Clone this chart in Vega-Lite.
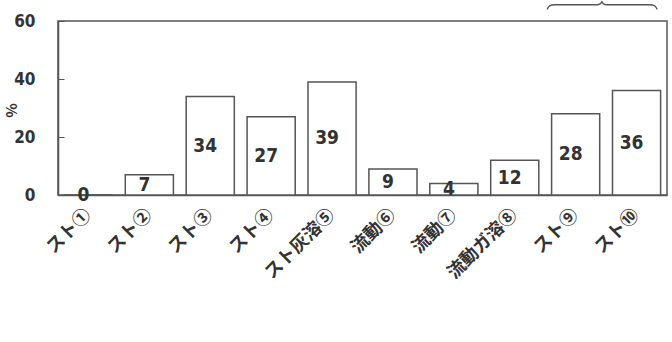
{
  "$schema": "https://vega.github.io/schema/vega-lite/v6.json",
  "width": 609,
  "height": 174,
  "autosize": "none",
  "padding": {"left": 58, "top": 21, "right": 5, "bottom": 147},
  "background": "white",
  "config": {
    "view": {"stroke": "#555", "strokeWidth": 1.5},
    "axis": {"grid": false}
  },
  "datasets": {
    "bars": [
      {"cat": "スト①", "v": 0},
      {"cat": "スト②", "v": 7},
      {"cat": "スト③", "v": 34},
      {"cat": "スト④", "v": 27},
      {"cat": "スト灰溶⑤", "v": 39},
      {"cat": "流動⑥", "v": 9},
      {"cat": "流動⑦", "v": 4},
      {"cat": "流動ガ溶⑧", "v": 12},
      {"cat": "スト⑨", "v": 28},
      {"cat": "スト⑩", "v": 36}
    ],
    "brace": [
      {"bx": 8.03, "by": 64.0},
      {"bx": 8.07, "by": 65.2},
      {"bx": 8.15, "by": 65.6},
      {"bx": 8.85, "by": 65.6},
      {"bx": 8.91, "by": 66.0},
      {"bx": 8.93, "by": 66.8},
      {"bx": 8.95, "by": 66.0},
      {"bx": 9.01, "by": 65.6},
      {"bx": 9.72, "by": 65.6},
      {"bx": 9.80, "by": 65.2},
      {"bx": 9.84, "by": 64.0}
    ]
  },
  "layer": [
    {
      "data": {"name": "bars"},
      "mark": {"type": "bar", "fill": "white", "stroke": "#555", "strokeWidth": 1.5},
      "encoding": {
        "x": {
          "field": "cat", "type": "nominal", "sort": null,
          "scale": {"paddingInner": 0.21, "paddingOuter": 0.105},
          "axis": {
            "title": null, "labelAngle": -45, "labelAlign": "right", "labelBaseline": "middle",
            "labelFont": "Noto Sans CJK JP", "labelFontWeight": "bold", "labelFontSize": 18,
            "labelColor": "#333", "ticks": false, "labelPadding": 17,
            "domainColor": "#555", "domainWidth": 1.5
          }
        },
        "y": {
          "field": "v", "type": "quantitative",
          "scale": {"domain": [0, 60]},
          "axis": {
            "values": [0, 20, 40, 60], "title": "%",
            "titleFont": "Noto Sans CJK JP", "titleFontWeight": "bold", "titleFontSize": 15,
            "titleColor": "#333", "titleX": -47, "titleY": 89, "titleBaseline": "middle",
            "labelFont": "DejaVu Sans Condensed, Liberation Sans Narrow, Liberation Sans", "labelFontWeight": "bold", "labelFontSize": 17,
            "labelColor": "#333", "tickSize": -6, "tickColor": "#555", "labelPadding": 29,
            "domainColor": "#555", "domainWidth": 1.5
          }
        }
      }
    },
    {
      "data": {"name": "bars"},
      "mark": {"type": "text", "font": "DejaVu Sans Condensed, Liberation Sans Narrow, Liberation Sans", "fontWeight": "bold", "fontSize": 19, "color": "#333", "dx": -5, "baseline": "middle"},
      "encoding": {
        "x": {"field": "cat", "type": "nominal", "sort": null, "scale": {"paddingInner": 0.21, "paddingOuter": 0.105}, "axis": null},
        "y": {"field": "v", "type": "quantitative", "scale": {"domain": [0, 120]}, "axis": null},
        "text": {"field": "v", "type": "quantitative"}
      }
    },
    {
      "data": {"name": "brace"},
      "mark": {"type": "line", "color": "#555", "strokeWidth": 1.3, "interpolate": "monotone"},
      "encoding": {
        "x": {"field": "bx", "type": "quantitative", "scale": {"domain": [0, 10], "nice": false, "zero": false}, "axis": null},
        "y": {"field": "by", "type": "quantitative", "scale": {"domain": [0, 60], "nice": false}, "axis": null}
      }
    }
  ],
  "resolve": {"scale": {"x": "independent", "y": "independent"}}
}
